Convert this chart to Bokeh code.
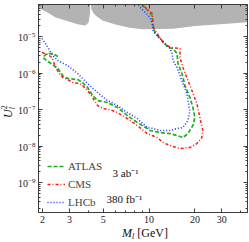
from bokeh.plotting import figure
from bokeh.layouts import row, column
from bokeh.models import (FixedTicker, LogAxis, Label, Legend, LegendItem, Div,
                          BasicTickFormatter, LogTickFormatter)
from bokeh.embed import file_html
from bokeh.resources import INLINE

# ---------------- data ----------------
lhcb_mass = [1.98, 2.17, 2.33, 2.52, 2.92, 3.40, 3.95, 4.59, 5.33, 6.20, 7.20, 8.37, 9.72,
             10.64, 11.82, 13.74, 15.26, 16.70, 18.00, 18.55, 18.00, 17.74, 16.70, 15.97,
             15.26, 14.37, 14.16, 13.74, 12.75, 11.82, 10.97, 10.64, 10.48, 10.17, 9.44, 8.89, 8.50]
lhcb_u2 = [8.81e-6, 5.00e-6, 3.01e-6, 2.20e-6, 1.60e-6, 9.68e-7, 5.16e-7, 2.93e-7, 1.77e-7,
           1.29e-7, 8.28e-8, 5.67e-8, 3.21e-8, 3.02e-8, 2.66e-8, 2.66e-8, 3.02e-8, 3.21e-8,
           5.00e-8, 9.39e-8, 1.77e-7, 2.74e-7, 5.16e-7, 8.54e-7, 1.42e-6, 2.20e-6, 3.42e-6,
           4.69e-6, 6.43e-6, 8.81e-6, 1.21e-5, 1.46e-5, 2.27e-5, 3.32e-5, 4.55e-5, 5.85e-5, 7.06e-5]

atlas_mass = [2.52, 2.33, 2.13, 2.01, 2.13, 2.27, 2.52, 2.71, 2.92, 3.40, 3.66, 3.95, 4.26,
              4.59, 5.33, 6.20, 7.20, 8.37, 9.72, 10.17, 11.82, 13.74, 15.26, 16.70, 18.00,
              19.41, 20.00, 19.41, 18.55, 17.21, 16.45, 15.49, 15.26, 14.37, 13.33, 12.18,
              10.97, 10.64, 10.48, 9.44, 9.02]
atlas_u2 = [2.83e-6, 3.42e-6, 3.42e-6, 2.66e-6, 2.20e-6, 1.82e-6, 1.33e-6, 8.54e-7, 7.07e-7,
            6.64e-7, 5.49e-7, 4.01e-7, 2.42e-7, 1.77e-7, 1.56e-7, 1.14e-7, 6.85e-8, 4.41e-8,
            3.02e-8, 2.66e-8, 2.34e-8, 2.20e-8, 1.94e-8, 1.71e-8, 2.20e-8, 3.65e-8, 6.04e-8,
            1.14e-7, 2.13e-7, 4.55e-7, 9.68e-7, 1.82e-6, 3.42e-6, 4.69e-6, 5.00e-6, 7.77e-6,
            1.21e-5, 2.00e-5, 3.76e-5, 6.24e-5, 7.06e-5]

cms_mass = [1.98, 2.17, 2.30, 2.37, 2.44, 2.55, 2.71, 2.92, 3.15, 3.50, 3.66, 3.95, 4.26,
            4.59, 4.95, 5.50, 6.20, 7.20, 8.37, 9.72, 11.30, 12.37, 13.74, 15.97, 18.55,
            20.61, 22.22, 22.55, 21.56, 20.61, 19.11, 18.00, 16.70, 15.97, 15.97, 13.74,
            12.37, 11.30, 10.64, 10.48, 9.44, 9.02]
cms_u2 = [3.65e-6, 3.21e-6, 2.66e-6, 1.94e-6, 1.42e-6, 1.03e-6, 7.53e-7, 6.64e-7, 5.49e-7,
          5.16e-7, 4.55e-7, 3.32e-7, 2.13e-7, 1.29e-7, 1.07e-7, 1.00e-7, 8.28e-8, 5.67e-8,
          3.65e-8, 2.20e-8, 1.71e-8, 1.25e-8, 1.03e-8, 8.54e-9, 9.10e-9, 1.17e-8, 1.71e-8,
          2.66e-8, 6.04e-8, 1.46e-7, 3.32e-7, 6.23e-7, 1.42e-6, 2.66e-6, 4.69e-6, 5.00e-6,
          6.85e-6, 1.21e-5, 1.77e-5, 4.27e-5, 6.24e-5, 7.06e-5]

# lower edge of the excluded (grey) region
excl_mass = [1.85, 2.10, 2.44, 2.97, 3.45, 3.83, 4.01, 4.10, 4.13, 4.17, 4.30, 4.45, 4.95,
             6.01, 7.31, 9.02, 14.4, 20.0, 45.0]
excl_u2 = [6.2e-5, 4.84e-5, 3.32e-5, 2.58e-5, 2.13e-5, 2.00e-5, 2.42e-5, 4.5e-5, 1e-3,
           5.8e-5, 4.5e-5, 3.76e-5, 2.74e-5, 2.13e-5, 1.77e-5, 1.58e-5, 1.62e-5, 1.94e-5, 2.45e-5]
excl_top = 1e-3

x_ticks = [2, 3, 5, 10, 20, 30]
x_minor = [4, 6, 7, 8, 9, 40]
y_ticks = [1e-9, 1e-8, 1e-7, 1e-6, 1e-5]
y_minor = [k * 10.0 ** e for e in range(-10, -3) for k in range(2, 10)]

# ---------------- figure ----------------
FRAME = "#3c3c3c"
SERIF = "Liberation Serif"

p = figure(width=234, height=228, x_axis_type="log", y_axis_type="log",
           x_range=(1.88, 44.3), y_range=(10 ** -9.82, 10 ** -4.123),
           output_backend="svg", toolbar_location=None,
           min_border_left=23, min_border_right=2, min_border_top=4, min_border_bottom=16)
p.xgrid.visible = False
p.ygrid.visible = False
p.outline_line_color = FRAME
p.background_fill_color = "white"
p.border_fill_color = "white"

# excluded region
p.patch(excl_mass + [excl_mass[-1], excl_mass[0]], excl_u2 + [excl_top, excl_top],
        fill_color="#b3b3b3", line_color=None)

r_atlas = p.line(atlas_mass, atlas_u2, line_color="#1fae1f", line_width=1.7, line_dash="4 2")
r_cms = p.line(cms_mass, cms_u2, line_color="#ff1a1a", line_width=1.5, line_dash="3 2 1 2")
r_lhcb = p.line(lhcb_mass, lhcb_u2, line_color="#2030ff", line_width=1.6, line_dash="1 2")


def style(ax, labels=True):
    ax.axis_line_color = FRAME
    ax.major_tick_line_color = FRAME
    ax.minor_tick_line_color = FRAME
    ax.major_tick_in = 4
    ax.major_tick_out = 0
    ax.minor_tick_in = 2
    ax.minor_tick_out = 0
    ax.major_label_text_font = SERIF
    ax.major_label_text_color = "#222222"
    if labels:
        ax.major_label_text_font_size = "10px"
        ax.major_label_standoff = 3
    else:
        ax.major_label_text_font_size = "1px"
        ax.major_label_text_alpha = 0
        ax.major_label_standoff = 0


p.xaxis[0].ticker = FixedTicker(ticks=x_ticks, minor_ticks=x_minor)
p.xaxis[0].formatter = BasicTickFormatter()
style(p.xaxis[0])
p.yaxis[0].ticker = FixedTicker(ticks=y_ticks, minor_ticks=y_minor)
p.yaxis[0].formatter = LogTickFormatter()
style(p.yaxis[0])

top_ax = LogAxis(ticker=FixedTicker(ticks=x_ticks, minor_ticks=x_minor))
style(top_ax, labels=False)
p.add_layout(top_ax, "above")
right_ax = LogAxis(ticker=FixedTicker(ticks=y_ticks, minor_ticks=y_minor))
style(right_ax, labels=False)
p.add_layout(right_ax, "right")

legend = Legend(items=[LegendItem(label="ATLAS", renderers=[r_atlas]),
                       LegendItem(label="CMS", renderers=[r_cms]),
                       LegendItem(label="LHCb", renderers=[r_lhcb])],
                location=(9, 3))
legend.background_fill_alpha = 0
legend.border_line_alpha = 0
legend.padding = 0
legend.margin = 0
legend.spacing = 4
legend.label_height = 14
legend.glyph_height = 14
legend.glyph_width = 18
legend.label_standoff = 3
legend.label_text_font = SERIF
legend.label_text_font_size = "11px"
p.add_layout(legend)


def make_label(text, x, y, size="11px"):
    return Label(x=x, y=y, x_units="screen", y_units="screen", text=text,
                 text_font=SERIF, text_font_size=size, text_color="#111111",
                 text_baseline="middle")


p.add_layout(make_label("3 ab\u207b\u00b9", 74, 40))
p.add_layout(make_label("380 fb\u207b\u00b9", 68, 14))

# axis titles as rich text
FONT_CSS = "font-family:'Liberation Serif',serif;color:#111;white-space:nowrap;line-height:12px;"
ytitle = Div(width=15, height=242, margin=0, text=(
    '<div style="position:relative;width:15px;height:242px;">'
    '<div style="position:absolute;left:2px;top:118px;transform:rotate(-90deg);'
    'transform-origin:0 0;font-size:12px;' + FONT_CSS + '">'
    '<i>U</i><span style="position:relative;top:-5px;font-size:8px;">2</span>'
    '<span style="position:relative;top:3px;left:-4px;font-size:8px;"><i>l</i></span>'
    '</div></div>'))
xtitle = Div(width=234, height=14, margin=0, text=(
    '<div style="position:relative;width:234px;height:14px;">'
    '<div style="position:absolute;left:107px;top:-1px;font-size:12px;' + FONT_CSS + '">'
    '<i>M</i><span style="position:relative;top:2px;font-size:8px;"><i>l</i></span>'
    '&nbsp;[GeV]</div></div>'))

layout = row(ytitle, column(p, xtitle, spacing=0), spacing=0)

open("out.html", "w").write(file_html(layout, INLINE))
